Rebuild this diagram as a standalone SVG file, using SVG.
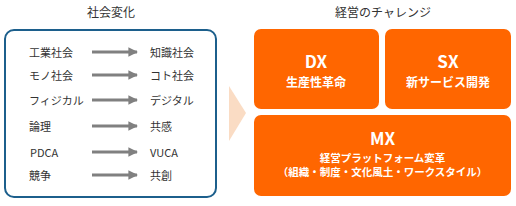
<svg xmlns="http://www.w3.org/2000/svg" width="516" height="206" viewBox="0 0 516 206">
<defs>
<style>
text{font-family:"Noto Sans CJK JP","Noto Sans",sans-serif;}
.title{font-size:12px;fill:#333;text-anchor:middle;}
.lbl{font-size:11px;fill:#333;dominant-baseline:central;}
.box{fill:#FF6600;}
.w1{font-size:17px;font-weight:bold;fill:#fff;text-anchor:middle;dominant-baseline:central;}
.w2{font-size:12px;font-weight:bold;fill:#fff;text-anchor:middle;dominant-baseline:central;}
.w3{font-size:10.5px;font-weight:bold;fill:#fff;text-anchor:middle;dominant-baseline:central;}
.arr{stroke:#808080;stroke-width:3;fill:none;marker-end:url(#ah);}
</style>
<marker id="ah" viewBox="0 0 10 10" refX="9" refY="5" markerWidth="3.2" markerHeight="3.2" orient="auto" markerUnits="strokeWidth">
<path d="M0,0 L10,5 L0,10 z" fill="#808080"/>
</marker>
</defs>
<rect width="516" height="206" fill="#fff"/>
<g id="left-panel">
<text class="title" x="111" y="17">社会変化</text>
<rect x="5" y="30" width="211" height="167" rx="9" fill="#fff" stroke="#1c5f8c" stroke-width="2"/>
</g>
<g id="rows">
<text class="lbl" x="29" y="52">工業社会</text><text class="lbl" x="150" y="52">知識社会</text>
<text class="lbl" x="29" y="75">モノ社会</text><text class="lbl" x="150" y="75">コト社会</text>
<text class="lbl" x="29" y="100">フィジカル</text><text class="lbl" x="150" y="100">デジタル</text>
<text class="lbl" x="29" y="126">論理</text><text class="lbl" x="150" y="126">共感</text>
<text class="lbl" x="30" y="152">PDCA</text><text class="lbl" x="150" y="152">VUCA</text>
<text class="lbl" x="29" y="175">競争</text><text class="lbl" x="150" y="175">共創</text>
</g>
<g id="connectors">
<line class="arr" x1="92" y1="52" x2="137" y2="52"/>
<line class="arr" x1="92" y1="75" x2="137" y2="75"/>
<line class="arr" x1="92" y1="100" x2="137" y2="100"/>
<line class="arr" x1="92" y1="126" x2="137" y2="126"/>
<line class="arr" x1="92" y1="152" x2="137" y2="152"/>
<line class="arr" x1="92" y1="175" x2="137" y2="175"/>
<polygon points="229,86 246,113 229,141" fill="#FADCC4"/>
</g>
<g id="right-title">
<text class="title" x="383" y="17">経営のチャレンジ</text>
</g>
<g id="dx">
<rect class="box" x="254" y="29" width="125" height="80" rx="7"/>
<text class="w1" x="316" y="60">DX</text>
<text class="w2" x="316" y="81">生産性革命</text>
</g>
<g id="sx">
<rect class="box" x="385" y="29" width="126" height="80" rx="7"/>
<text class="w1" x="448" y="60">SX</text>
<text class="w2" x="448" y="81">新サービス開発</text>
</g>
<g id="mx">
<rect class="box" x="254" y="115" width="257" height="81" rx="7"/>
<text class="w1" x="382.5" y="137">MX</text>
<text class="w3" x="382.5" y="157.5">経営プラットフォーム変革</text>
<text class="w3" x="382.5" y="171.5">（組織・制度・文化風土・ワークスタイル）</text>
</g>
</svg>
